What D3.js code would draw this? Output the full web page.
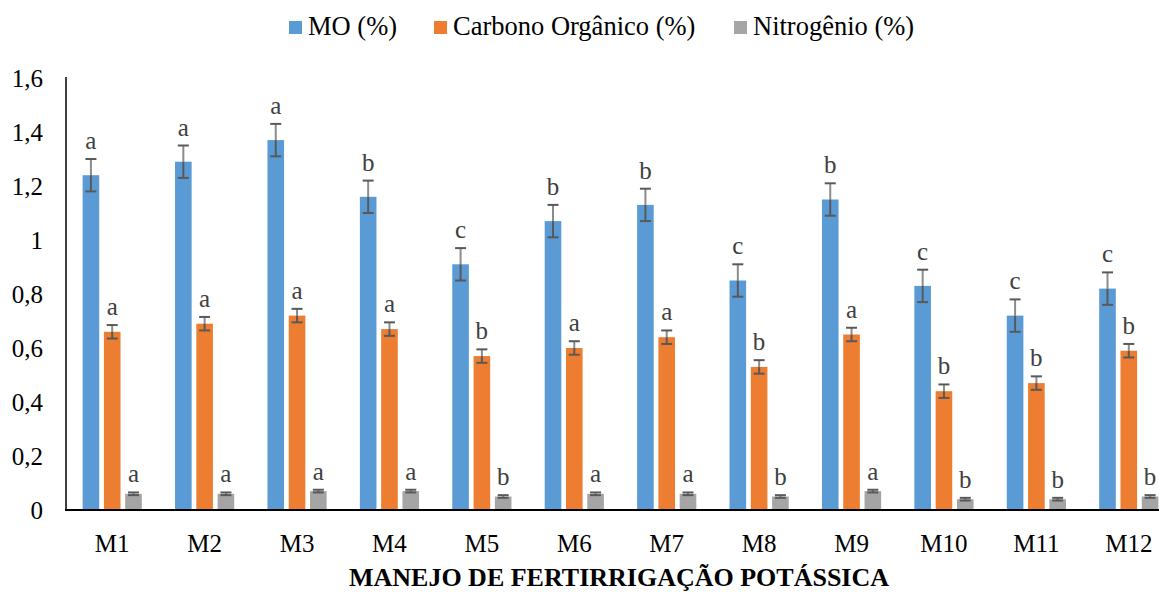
<!DOCTYPE html>
<html>
<head>
<meta charset="utf-8">
<script src="https://cdn.jsdelivr.net/npm/d3@7/dist/d3.min.js"></script>
<style>
  html, body { margin: 0; padding: 0; background: #fff; }
  svg { display: block; }
  svg text { font-family: "Liberation Serif", "Times New Roman", serif; }
</style>
</head>
<body>
<svg id="chart" width="1159" height="592"></svg>
<script>
// Treatments (fertirrigation management)
const categories = ["M1","M2","M3","M4","M5","M6","M7","M8","M9","M10","M11","M12"];

// Series names
const seriesNames = ["MO (%)", "Carbono Orgânico (%)", "Nitrogênio (%)"];

// Means
const moValues  = [1.24, 1.29, 1.37, 1.16, 0.91, 1.07, 1.13, 0.85, 1.15, 0.83, 0.72, 0.82];
const coValues  = [0.66, 0.69, 0.72, 0.67, 0.57, 0.60, 0.64, 0.53, 0.65, 0.44, 0.47, 0.59];
const nValues   = [0.06, 0.06, 0.07, 0.07, 0.05, 0.06, 0.06, 0.05, 0.07, 0.04, 0.04, 0.05];

// Error (± deviation)
const moErrors  = [0.06, 0.06, 0.06, 0.06, 0.06, 0.06, 0.06, 0.06, 0.06, 0.06, 0.06, 0.06];
const coErrors  = [0.025, 0.025, 0.025, 0.025, 0.025, 0.025, 0.025, 0.025, 0.025, 0.025, 0.025, 0.025];
const nErrors   = [0.005, 0.005, 0.005, 0.005, 0.005, 0.005, 0.005, 0.005, 0.005, 0.005, 0.005, 0.005];

// Statistical grouping letters
const moLetters = ["a","a","a","b","c","b","b","c","b","c","c","c"];
const coLetters = ["a","a","a","a","b","a","a","b","a","b","b","b"];
const nLetters  = ["a","a","a","a","b","a","a","b","a","b","b","b"];

// Axis ticks
const yTicks = [0, 0.2, 0.4, 0.6, 0.8, 1, 1.2, 1.4, 1.6];
const xTitle = "MANEJO DE FERTIRRIGAÇÃO POTÁSSICA";

const colors = ["#5B9BD5", "#ED7D31", "#A5A5A5"];

const series = [
  { name: seriesNames[0], values: moValues, errors: moErrors, letters: moLetters },
  { name: seriesNames[1], values: coValues, errors: coErrors, letters: coLetters },
  { name: seriesNames[2], values: nValues,  errors: nErrors,  letters: nLetters }
];

const svg = d3.select("#chart");
const fontFamily = "Liberation Serif, Times New Roman, serif";
const fontSize = 25;

const x = d3.scaleBand().domain(categories).range([66, 1175]).paddingInner(0).paddingOuter(0);
const x1 = d3.scaleBand().domain(d3.range(series.length)).range([0, x.bandwidth()]).paddingInner(0.22).paddingOuter(0.78);
const y = d3.scaleLinear().domain([0, 1.6]).range([510, 78]);

// Y axis labels
const yAxis = d3.axisLeft(y).tickValues(yTicks).tickSize(0).tickPadding(23)
  .tickFormat(d => d3.format(".1~f")(d).replace(".", ","));
const yg = svg.append("g").attr("transform", "translate(66,0)").call(yAxis)
  .attr("font-family", fontFamily);
yg.select(".domain").remove();
yg.selectAll("text").attr("font-size", fontSize).attr("fill", "#000");

// X axis labels
const xAxis = d3.axisBottom(x).tickSize(0).tickPadding(24);
const xg = svg.append("g").attr("transform", "translate(0,510)").call(xAxis)
  .attr("font-family", fontFamily);
xg.select(".domain").remove();
xg.selectAll("text").attr("font-size", fontSize).attr("fill", "#000");

// Bars
const groups = svg.append("g").selectAll("g")
  .data(categories).join("g")
  .attr("transform", d => `translate(${x(d)},0)`);

series.forEach((s, si) => {
  groups.append("rect")
    .attr("x", x1(si))
    .attr("width", x1.bandwidth())
    .attr("y", (d, i) => y(s.values[i]))
    .attr("height", (d, i) => y(0) - y(s.values[i]))
    .attr("fill", colors[si]);
});

// Error bars and letters
series.forEach((s, si) => {
  const cx = x1(si) + x1.bandwidth() / 2;
  const capW = 11;
  groups.each(function(d, i) {
    const g = d3.select(this);
    const v = s.values[i], e = s.errors[i];
    const yTop = y(v + e), yBot = y(v - e), yMid = y(v);
    // upper stem above the bar
    g.append("line").attr("x1", cx).attr("x2", cx).attr("y1", yTop).attr("y2", yMid)
      .attr("stroke", "#8c8c8c").attr("stroke-width", 2);
    // lower stem inside the bar
    g.append("line").attr("x1", cx).attr("x2", cx).attr("y1", yMid).attr("y2", yBot)
      .attr("stroke", "#595959").attr("stroke-width", 2);
    [yTop, yBot].forEach(yy => {
      g.append("line").attr("x1", cx - capW / 2).attr("x2", cx + capW / 2)
        .attr("y1", yy).attr("y2", yy)
        .attr("stroke", "#595959").attr("stroke-width", 2);
    });
    g.append("text")
      .attr("x", cx).attr("y", yTop - 10)
      .attr("text-anchor", "middle")
      .attr("font-family", fontFamily)
      .attr("font-size", fontSize)
      .attr("fill", "#404040")
      .text(s.letters[i]);
  });
});

// Axis lines
svg.append("line").attr("x1", 66).attr("x2", 66).attr("y1", 77).attr("y2", 511)
  .attr("stroke", "#000").attr("stroke-width", 1.5);
svg.append("line").attr("x1", 65).attr("x2", 1159).attr("y1", 510).attr("y2", 510)
  .attr("stroke", "#000").attr("stroke-width", 2);

// Axis title
svg.append("text")
  .attr("x", 619).attr("y", 586)
  .attr("text-anchor", "middle")
  .attr("font-family", fontFamily)
  .attr("font-size", 26).attr("font-weight", "bold")
  .text(xTitle);

// Legend
const legendX = [289, 434, 734];
const legend = svg.append("g");
series.forEach((s, si) => {
  legend.append("rect").attr("x", legendX[si]).attr("y", 21).attr("width", 13).attr("height", 13)
    .attr("fill", colors[si]);
  legend.append("text").attr("x", legendX[si] + 19).attr("y", 35)
    .attr("font-family", fontFamily)
    .attr("font-size", 26.5).attr("fill", "#000").text(s.name);
});
</script>
</body>
</html>
